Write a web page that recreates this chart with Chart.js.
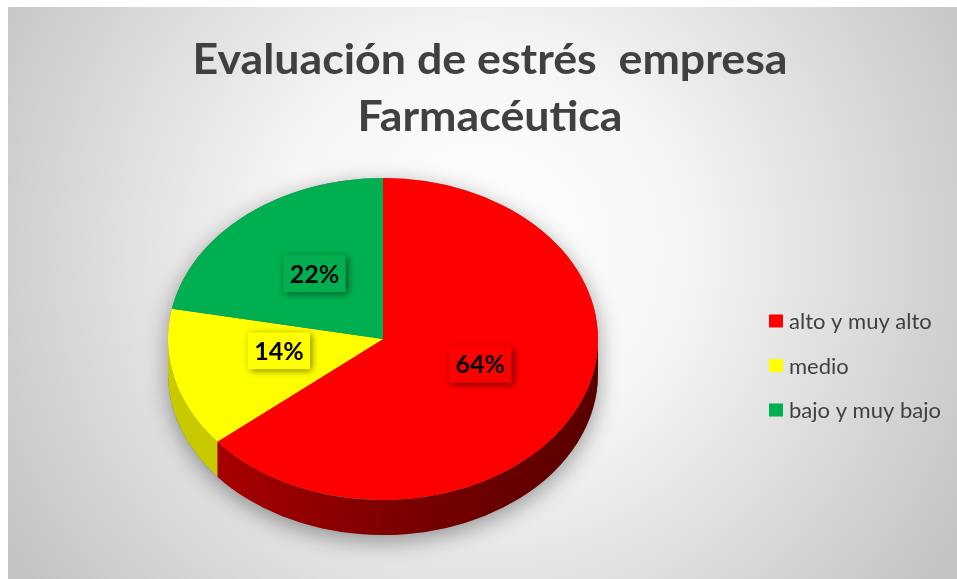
<!DOCTYPE html>
<html>
<head>
<meta charset="utf-8">
<script src="https://cdn.jsdelivr.net/npm/chart.js@4/dist/chart.umd.min.js"></script>
<style>
  html, body { margin: 0; padding: 0; background: #ffffff; }
  #wrap { position: relative; width: 957px; height: 579px; }
  canvas { display: block; }
</style>
</head>
<body>
<div id="wrap"><canvas id="c" width="957" height="579"></canvas></div>
<script>
// ---- data ----
const categories = ['alto y muy alto', 'medio', 'bajo y muy bajo'];
const values = [64, 14, 22];
const sliceColors = ['#ff0000', '#ffff00', '#00b050'];
const titleLines = ['Evaluación de estrés  empresa', 'Farmacéutica'];

// ---- geometry / styles ----
const SQUASH = 161 / 215;     // vertical tilt of the pie
const DEPTH = 35;             // thickness of the 3D pie
const TEXT_FONT = 'Lato, "Open Sans", sans-serif';

function sideStyles(ctx, i, x0, x1) {
  if (i === 0) {
    const g = ctx.createLinearGradient(x0, 0, x1, 0);
    g.addColorStop(0, '#a80000');
    g.addColorStop(0.5, '#7a0000');
    g.addColorStop(1, '#580000');
    return g;
  }
  if (i === 1) return '#c9c900';
  return '#00803a';
}

function drawScaledText(ctx, text, x, y, size, targetWidth) {
  ctx.font = 'bold ' + size + 'px ' + TEXT_FONT;
  const w = ctx.measureText(text).width;
  const sx = targetWidth / w;
  ctx.save();
  ctx.translate(x, y);
  ctx.scale(sx, 1);
  ctx.fillText(text, 0, 0);
  ctx.restore();
  return sx;
}

const bgPlugin = {
  id: 'bg',
  beforeDraw(chart) {
    const ctx = chart.ctx;
    ctx.save();
    ctx.fillStyle = '#ffffff';
    ctx.fillRect(0, 0, chart.width, chart.height);
    const g = ctx.createRadialGradient(480, 250, 0, 480, 250, 560);
    g.addColorStop(0, '#ffffff');
    g.addColorStop(0.35, '#f6f6f6');
    g.addColorStop(1, '#c3c3c3');
    ctx.fillStyle = g;
    ctx.fillRect(8, 7, chart.width - 8, chart.height - 7);
    // title
    ctx.fillStyle = '#404040';
    ctx.textAlign = 'center';
    ctx.textBaseline = 'alphabetic';
    const size = 42;
    ctx.font = 'bold ' + size + 'px ' + TEXT_FONT;
    const w0 = ctx.measureText(titleLines[0]).width;
    const sx = 595 / w0;
    ctx.save();
    ctx.translate(490, 0);
    ctx.scale(sx, 1);
    ctx.fillText(titleLines[0], 0, 74);
    ctx.fillText(titleLines[1], 0, 131);
    ctx.restore();
    ctx.restore();
  }
};

const pie3dPlugin = {
  id: 'pie3d',
  beforeDatasetsDraw(chart) {
    const meta = chart.getDatasetMeta(0);
    const ctx = chart.ctx;
    const first = meta.data[0];
    const cx = first.x, cy = first.y, rx = first.outerRadius, ry = rx * SQUASH;
    ctx.save();
    // soft shadow under the whole body
    ctx.shadowColor = 'rgba(0,0,0,0.38)';
    ctx.shadowBlur = 22;
    ctx.shadowOffsetX = 0;
    ctx.shadowOffsetY = 6;
    ctx.fillStyle = '#777777';
    ctx.beginPath();
    ctx.ellipse(cx, cy, rx, ry, 0, 0, Math.PI * 2);
    ctx.moveTo(cx + rx, cy + DEPTH);
    ctx.ellipse(cx, cy + DEPTH, rx, ry, 0, 0, Math.PI * 2);
    ctx.rect(cx - rx, cy, rx * 2, DEPTH);
    ctx.fill();
    ctx.restore();

    // side walls (front half only)
    meta.data.forEach((arc, i) => {
      let a = arc.startAngle, b = arc.endAngle;
      const TWO = Math.PI * 2;
      while (a < 0) { a += TWO; b += TWO; }
      const ranges = [[a, b], [a - TWO, b - TWO], [a + TWO, b + TWO]];
      ranges.forEach(([s, e]) => {
        const s2 = Math.max(s, 0), e2 = Math.min(e, Math.PI);
        if (e2 <= s2) return;
        const x0 = cx + rx * Math.cos(e2), x1 = cx + rx * Math.cos(s2);
        ctx.save();
        ctx.fillStyle = sideStyles(ctx, i, Math.min(x0, x1), Math.max(x0, x1));
        ctx.beginPath();
        ctx.ellipse(cx, cy, rx, ry, 0, s2, e2, false);
        ctx.lineTo(cx + rx * Math.cos(e2), cy + ry * Math.sin(e2) + DEPTH);
        ctx.ellipse(cx, cy + DEPTH, rx, ry, 0, e2, s2, true);
        ctx.closePath();
        ctx.fill();
        ctx.restore();
      });
    });

    // squash the top face
    ctx.save();
    ctx.translate(cx, cy);
    ctx.scale(1, SQUASH);
    ctx.translate(-cx, -cy);
  },
  afterDatasetsDraw(chart) {
    const ctx = chart.ctx;
    ctx.restore();
    const meta = chart.getDatasetMeta(0);
    const first = meta.data[0];
    const cx = first.x, cy = first.y - 7, rx = first.outerRadius, ry = rx * SQUASH;
    const total = values.reduce((s, v) => s + v, 0);
    // data labels
    meta.data.forEach((arc, i) => {
      const mid = (arc.startAngle + arc.endAngle) / 2;
      const lx = cx + 0.5 * rx * Math.cos(mid);
      const ly = cy + 0.47 * ry * Math.sin(mid);
      const txt = Math.round(values[i] / total * 100) + '%';
      ctx.save();
      ctx.font = 'bold 25px ' + TEXT_FONT;
      const tw = ctx.measureText(txt).width;
      const bw = tw + 13, bh = 37;
      ctx.shadowColor = 'rgba(0,0,0,0.55)';
      ctx.shadowBlur = 7;
      ctx.shadowOffsetX = 2;
      ctx.shadowOffsetY = 2;
      ctx.fillStyle = sliceColors[i];
      ctx.fillRect(lx - bw / 2, ly - bh / 2, bw, bh);
      ctx.shadowColor = 'transparent';
      ctx.fillStyle = '#000000';
      ctx.textAlign = 'center';
      ctx.textBaseline = 'middle';
      ctx.fillText(txt, lx, ly + 1);
      ctx.restore();
    });
    // legend
    ctx.save();
    ctx.font = '22px ' + TEXT_FONT;
    ctx.textBaseline = 'middle';
    ctx.textAlign = 'left';
    categories.forEach((name, i) => {
      const y = 321 + i * 44.5;
      ctx.fillStyle = sliceColors[i];
      ctx.fillRect(769, y - 6.5, 14, 13);
      ctx.fillStyle = '#404040';
      ctx.fillText(name, 789, y + 1);
    });
    ctx.restore();
  }
};

new Chart(document.getElementById('c'), {
  type: 'pie',
  data: {
    labels: categories,
    datasets: [{
      data: values,
      backgroundColor: sliceColors,
      borderWidth: 0
    }]
  },
  options: {
    responsive: false,
    animation: false,
    rotation: 0,
    layout: { padding: { left: 168, right: 359, top: 124, bottom: 25 } },
    plugins: {
      legend: { display: false },
      title: { display: false },
      tooltip: { enabled: false }
    }
  },
  plugins: [bgPlugin, pie3dPlugin]
});
</script>
</body>
</html>
